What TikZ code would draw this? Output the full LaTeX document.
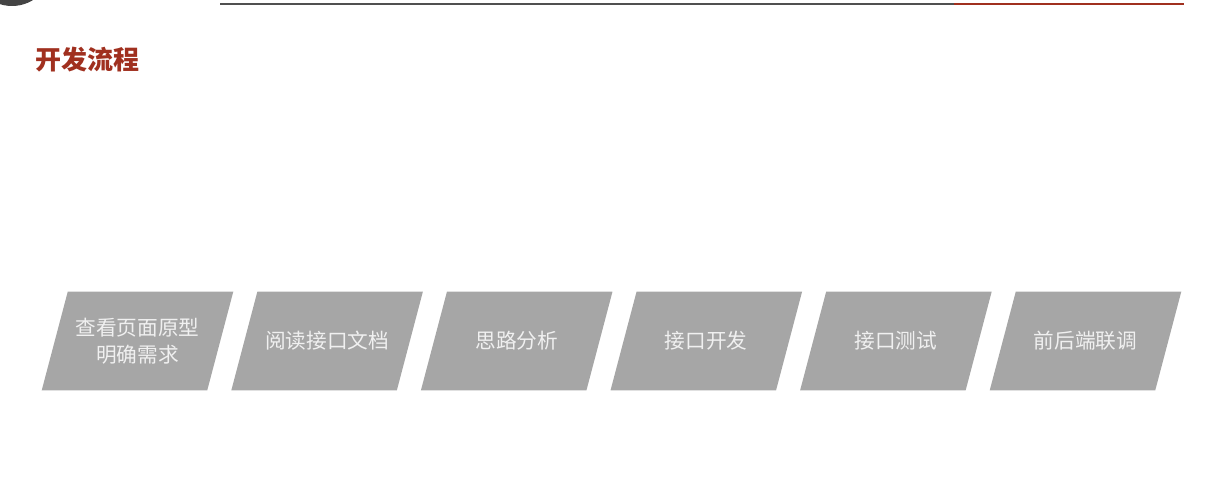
\documentclass[tikz,border=0pt]{standalone}
\usepackage{fontspec}
\newfontfamily\cjk{Noto Sans CJK SC}
\usetikzlibrary{backgrounds}
\definecolor{titlered}{HTML}{A0301F}
\definecolor{boxgray}{HTML}{A6A6A6}
\definecolor{bargray}{HTML}{505050}

\begin{document}
\begin{tikzpicture}[x=0.75pt, y=-0.75pt,
		stepbox/.style={minimum width=123.75pt, minimum height=73.5pt,
			inner sep=0pt, text=white!94!black, align=center,
			font=\cjk\fontsize{15.5}{20}\selectfont}]
	\useasboundingbox (0,0) rectangle (1228,499);

	% --- Kopfzeile ---
	\fill[bargray!85!black] (12,-34) circle (40);
	\draw[bargray, line width=1.5pt] (220,4) -- (954,4);
	\draw[titlered, line width=1.5pt] (954,4) -- (1184,4);
	\node[anchor=west, text=titlered, font=\cjk\bfseries\fontsize{19.5}{24}\selectfont] (titel) at (31,60) {开发流程};

	% --- Ablauf ---
	\foreach \i/\txt in {0/{查看页面原型\\明确需求}, 1/阅读接口文档, 2/思路分析, 3/接口开发, 4/接口测试, 5/前后端联调} {
		\node[stepbox] (s\i) at (137.5+189.6*\i, 341) {\txt};
		\begin{scope}[on background layer]
			\fill[boxgray] ([xshift=-9.75pt]s\i.south west) -- ([xshift=-9.75pt]s\i.south east)
				-- ([xshift=9.75pt]s\i.north east) -- ([xshift=9.75pt]s\i.north west) -- cycle;
		\end{scope}
	}
\end{tikzpicture}
\end{document}
